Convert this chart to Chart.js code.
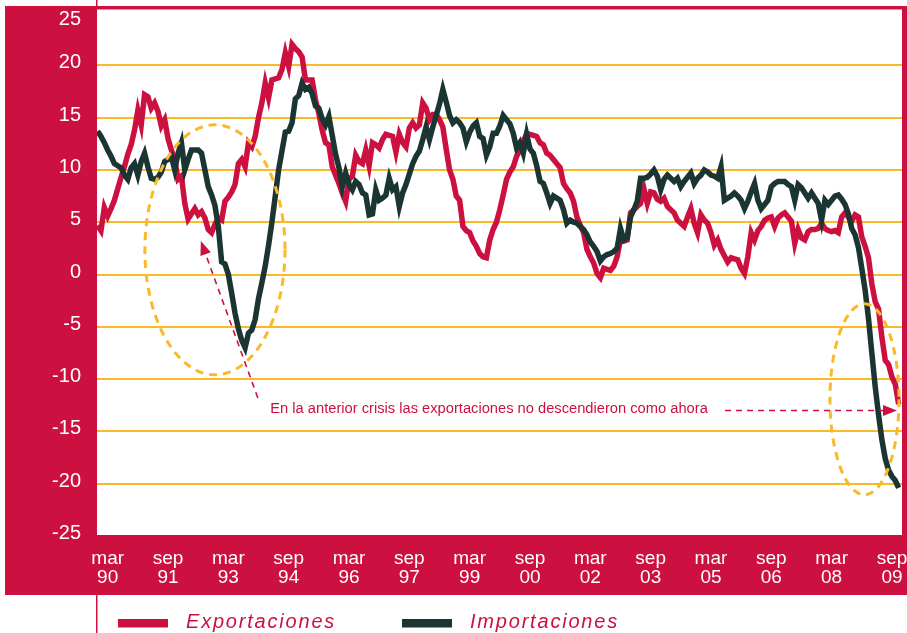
<!DOCTYPE html>
<html lang="es">
<head>
<meta charset="utf-8">
<title>Exportaciones e importaciones</title>
<script src="https://cdn.jsdelivr.net/npm/chart.js@4.4.1/dist/chart.umd.min.js"></script>
<style>
  html, body { margin: 0; padding: 0; background: #ffffff; }
  #contenedor { position: relative; width: 907px; height: 633px; }
</style>
</head>
<body>
<div id="contenedor"><canvas id="grafico" width="907" height="633"></canvas></div>
<script>
// meses contados desde mar 90 (la serie empieza en dic 89 = -3)
const primerMes = -3;

const exportaciones = [
  4.7, 4.2, 6.4, 5.6, 6.3, 7.1, 8.2, 9.3, 10.3, 11.5, 12.4, 13.8,
  15.7, 14.3, 17.2, 17.0, 15.9, 16.4, 15.6, 14.2, 14.8, 13.0, 11.9, 11.0,
  9.1, 9.4, 6.8, 5.3, 5.8, 6.3, 5.7, 6.0, 5.4, 4.3, 4.0, 4.8,
  5.4, 5.2, 7.0, 7.4, 7.9, 8.6, 10.6, 11.0, 10.3, 12.6, 12.2, 13.2,
  15.0, 16.4, 18.3, 16.9, 18.6, 18.7, 18.8, 19.6, 21.2, 19.9, 22.0, 21.6,
  21.3, 20.8, 18.6, 18.6, 18.6, 16.7, 15.4, 13.8, 12.6, 12.4, 10.3, 9.5,
  8.7, 7.8, 7.0, 9.1, 9.4, 11.4, 10.8, 10.6, 11.9, 10.4, 12.6, 12.4,
  12.1, 12.9, 13.4, 13.3, 13.2, 11.7, 13.4, 12.6, 12.2, 14.0, 14.5, 14.0,
  14.3, 16.4, 15.9, 14.8, 15.3, 15.3, 14.8, 14.1, 12.0, 10.0, 9.1, 7.5,
  7.1, 4.6, 4.2, 4.0, 3.2, 2.7, 2.0, 1.7, 1.6, 3.3, 4.3, 5.0,
  6.2, 7.6, 9.1, 9.8, 10.3, 11.3, 11.9, 12.7, 13.5, 13.4, 13.3, 13.2,
  12.6, 12.4, 11.6, 11.4, 11.0, 10.6, 10.2, 8.7, 8.2, 7.8, 7.0, 5.5,
  4.7, 4.0, 2.4, 1.7, 1.1, 0.1, -0.3, 0.6, 0.5, 0.4, 0.8, 1.7,
  3.3, 3.2, 3.3, 5.9, 6.2, 6.5, 6.8, 8.2, 6.8, 7.9, 7.8, 7.2,
  7.0, 7.3, 6.5, 6.2, 5.9, 5.2, 4.9, 4.6, 5.5, 6.3, 4.9, 4.0,
  5.7, 5.2, 4.9, 4.0, 2.8, 3.3, 2.4, 1.8, 1.2, 1.6, 1.5, 1.4,
  0.6, 0.1, 1.7, 4.0, 3.3, 4.2, 4.6, 5.2, 5.4, 5.5, 4.6, 5.4,
  5.7, 5.9, 5.5, 5.1, 3.0, 4.3, 3.5, 3.3, 4.1, 4.3, 4.3, 4.4,
  4.9, 4.4, 4.2, 4.1, 4.2, 4.0, 5.5, 5.9, 5.5, 5.1, 5.7, 5.5,
  3.6, 2.7, 1.6, -0.9, -2.6, -3.3, -6.0, -8.2, -8.6, -9.8, -10.5, -12.4
];

const importaciones = [
  13.7, 13.2, 12.6, 11.9, 11.3, 10.6, 10.4, 10.2, 9.5, 9.1, 10.2, 10.6,
  9.5, 10.8, 11.6, 10.3, 9.2, 9.1, 9.3, 9.8, 10.8, 11.0, 11.3, 10.0,
  11.6, 12.6, 10.0, 11.0, 11.9, 11.9, 11.9, 11.6, 10.0, 8.4, 7.6, 6.6,
  4.6, 1.2, 1.0, 0.0, -1.8, -3.7, -5.2, -6.3, -7.0, -5.6, -5.3, -4.3,
  -2.3, -0.8, 0.8, 2.8, 5.0, 7.5, 10.0, 11.8, 13.6, 13.7, 14.5, 16.8,
  17.1, 18.3, 17.7, 17.9, 17.3, 16.1, 15.9, 14.9, 14.3, 15.1, 13.3, 11.5,
  10.2, 8.4, 9.7, 8.6, 8.1, 8.9, 8.6, 7.8, 7.6, 5.7, 5.8, 8.1,
  7.1, 7.3, 7.6, 9.2, 8.1, 8.4, 6.5, 7.8, 8.6, 9.6, 10.6, 11.3,
  11.8, 12.9, 14.1, 12.9, 14.1, 15.2, 16.3, 17.7, 16.5, 15.2, 14.5, 14.8,
  14.5, 14.0, 12.7, 13.6, 14.2, 14.5, 13.2, 13.0, 11.4, 12.2, 13.5, 13.5,
  14.2, 15.2, 14.8, 14.4, 13.5, 12.1, 12.6, 11.6, 13.4, 12.0, 11.6, 10.4,
  8.9, 8.7, 7.8, 6.8, 7.5, 7.3, 7.1, 6.2, 4.9, 5.2, 5.0, 4.9,
  4.6, 4.3, 3.8, 3.1, 2.7, 2.2, 1.3, 1.7, 1.9, 2.0, 2.2, 2.5,
  4.4, 3.3, 3.5, 5.5, 6.2, 7.0, 9.2, 9.2, 9.3, 9.6, 10.0, 9.4,
  8.1, 9.1, 9.5, 9.2, 8.9, 9.2, 8.4, 8.9, 9.3, 9.7, 8.7, 9.2,
  9.5, 10.0, 9.8, 9.5, 9.4, 9.2, 10.3, 7.1, 7.3, 7.5, 7.8, 7.5,
  7.1, 6.3, 7.0, 7.9, 8.7, 7.1, 6.3, 6.7, 7.1, 8.4, 8.7, 8.9,
  8.9, 8.9, 8.6, 8.4, 7.1, 8.6, 8.3, 7.8, 7.3, 7.8, 7.3, 6.8,
  5.2, 7.1, 6.7, 7.1, 7.5, 7.6, 7.2, 6.7, 5.8, 4.4, 3.8, 2.6,
  0.6, -1.5, -4.2, -7.5, -10.7, -13.4, -15.8, -17.6, -18.7, -19.3, -19.7, -20.4
];

const posicionesEje = [0, 18, 36, 54, 72, 90, 108, 126, 144, 162, 180, 198, 216, 234];
const etiquetasMes = ['mar', 'sep', 'mar', 'sep', 'mar', 'sep', 'mar', 'sep', 'mar', 'sep', 'mar', 'sep', 'mar', 'sep'];
const etiquetasAnio = ['90', '91', '93', '94', '96', '97', '99', '00', '02', '03', '05', '06', '08', '09'];
const valoresEjeY = [25, 20, 15, 10, 5, 0, -5, -10, -15, -20, -25];

const textoNota = 'En la anterior crisis las exportaciones no descendieron como ahora';

const colores = {
  rojo: '#cc1040',
  verde: '#1b3533',
  amarillo: '#f9b928',
  blanco: '#ffffff'
};

// marco rojo y zona blanca del grafico
const fondo = {
  id: 'fondo',
  beforeDraw(chart) {
    const ctx = chart.ctx;
    const a = chart.chartArea;
    ctx.save();
    ctx.fillStyle = colores.blanco;
    ctx.fillRect(0, 0, chart.width, chart.height);
    ctx.fillStyle = colores.rojo;
    ctx.fillRect(5, 6, chart.width - 5, 589);
    ctx.fillStyle = colores.blanco;
    ctx.fillRect(a.left, 9.5, a.right - a.left, a.bottom - 1 - 9.5);
    ctx.fillStyle = colores.rojo;
    ctx.fillRect(a.left - 1, 0, 1.5, 7);
    ctx.fillRect(a.left - 1, 595, 1.5, chart.height - 595);
    ctx.restore();
  }
};

function flecha(ctx, x0, y0, x1, y1) {
  const ang = Math.atan2(y1 - y0, x1 - x0);
  const largo = 14;
  ctx.setLineDash([6, 5]);
  ctx.beginPath();
  ctx.moveTo(x0, y0);
  ctx.lineTo(x1 - Math.cos(ang) * largo, y1 - Math.sin(ang) * largo);
  ctx.stroke();
  ctx.setLineDash([]);
  ctx.beginPath();
  ctx.moveTo(x1, y1);
  ctx.lineTo(x1 - Math.cos(ang) * largo - Math.sin(ang) * 5.5, y1 - Math.sin(ang) * largo + Math.cos(ang) * 5.5);
  ctx.lineTo(x1 - Math.cos(ang) * largo + Math.sin(ang) * 5.5, y1 - Math.sin(ang) * largo - Math.cos(ang) * 5.5);
  ctx.closePath();
  ctx.fill();
}

// elipses, flechas y nota (en unidades de los ejes)
const anotaciones = {
  id: 'anotaciones',
  afterDatasetsDraw(chart) {
    const ctx = chart.ctx;
    const sx = chart.scales.x;
    const sy = chart.scales.y;
    const elipses = [
      { mes: 32, valor: 2.36, rMes: 20.9, rValor: 11.95 },
      { mes: 225.8, valor: -11.93, rMes: 10.3, rValor: 9.13 }
    ];
    ctx.save();
    ctx.strokeStyle = colores.amarillo;
    ctx.lineWidth = 3;
    ctx.setLineDash([8, 6]);
    elipses.forEach(e => {
      const cx = sx.getPixelForValue(e.mes);
      const cy = sy.getPixelForValue(e.valor);
      const rx = sx.getPixelForValue(e.mes + e.rMes) - cx;
      const ry = cy - sy.getPixelForValue(e.valor + e.rValor);
      ctx.beginPath();
      ctx.ellipse(cx, cy, rx, ry, 0, 0, Math.PI * 2);
      ctx.stroke();
    });

    ctx.strokeStyle = colores.rojo;
    ctx.fillStyle = colores.rojo;
    ctx.lineWidth = 1.6;
    flecha(ctx, sx.getPixelForValue(44.8), sy.getPixelForValue(-11.8),
      sx.getPixelForValue(27.8), sy.getPixelForValue(3.2));
    flecha(ctx, sx.getPixelForValue(184.2), sy.getPixelForValue(-13.0),
      sx.getPixelForValue(235.5), sy.getPixelForValue(-13.0));

    ctx.font = '14.7px Arial, "Liberation Sans", sans-serif';
    ctx.textAlign = 'left';
    ctx.textBaseline = 'middle';
    ctx.fillText(textoNota, sx.getPixelForValue(48.5), sy.getPixelForValue(-12.85));
    ctx.restore();
  }
};

// leyenda inferior y etiqueta superior del eje
const leyenda = {
  id: 'leyenda',
  afterDraw(chart) {
    const ctx = chart.ctx;
    const sy = chart.scales.y;
    ctx.save();
    ctx.fillStyle = colores.blanco;
    ctx.font = '20px Arial, "Liberation Sans", sans-serif';
    ctx.textAlign = 'right';
    ctx.textBaseline = 'middle';
    ctx.fillText('25', sy.right - 16, sy.getPixelForValue(25) + 6.3);

    const inicios = [118, 402];
    ctx.font = 'italic 20px Arial, "Liberation Sans", sans-serif';
    ctx.textAlign = 'left';
    ctx.textBaseline = 'alphabetic';
    ctx.letterSpacing = '1.8px';
    chart.data.datasets.forEach((d, i) => {
      ctx.fillStyle = d.borderColor;
      ctx.fillRect(inicios[i], 619, 50, 8.5);
      ctx.fillStyle = colores.rojo;
      ctx.fillText(d.label, inicios[i] + 68, 628);
    });
    ctx.restore();
  }
};

const serie = (valores) => valores.map((v, i) => ({ x: primerMes + i, y: v }));

new Chart(document.getElementById('grafico'), {
  type: 'line',
  data: {
    datasets: [
      {
        label: 'Exportaciones',
        data: serie(exportaciones),
        borderColor: colores.rojo,
        borderWidth: 5.5,
        pointRadius: 0,
        tension: 0,
        order: 1
      },
      {
        label: 'Importaciones',
        data: serie(importaciones),
        borderColor: colores.verde,
        borderWidth: 5.5,
        pointRadius: 0,
        tension: 0,
        order: 0
      }
    ]
  },
  options: {
    responsive: false,
    devicePixelRatio: 1,
    animation: false,
    layout: { padding: { top: 13, right: 5, bottom: 0, left: 0 } },
    plugins: {
      legend: { display: false },
      tooltip: { enabled: false }
    },
    scales: {
      x: {
        type: 'linear',
        min: -3.19,
        max: 237,
        afterBuildTicks: s => { s.ticks = posicionesEje.map(v => ({ value: v })); },
        afterFit: s => { s.height = 97; s.paddingLeft = 0; s.paddingRight = 0; },
        grid: { display: false, drawTicks: false },
        border: { display: false },
        ticks: {
          autoSkip: false,
          maxRotation: 0,
          color: colores.blanco,
          padding: 13,
          font: { family: '"Liberation Sans Narrow", "Arial Narrow", Arial, sans-serif', size: 19, lineHeight: '19.3px' },
          callback: (v, i) => [etiquetasMes[i], etiquetasAnio[i]]
        }
      },
      y: {
        min: -25,
        max: 25,
        afterBuildTicks: s => { s.ticks = valoresEjeY.map(v => ({ value: v })); },
        afterFit: s => { s.width = 97; s.paddingTop = 0; s.paddingBottom = 0; },
        grid: {
          color: c => (Math.abs(c.tick.value) === 25 ? 'rgba(0,0,0,0)' : colores.amarillo),
          lineWidth: 2,
          drawTicks: false
        },
        border: { display: false },
        ticks: {
          color: colores.blanco,
          padding: 16,
          labelOffset: -2.5,
          font: { family: 'Arial, "Liberation Sans", sans-serif', size: 20 },
          callback: v => (v === 25 ? '' : String(v))
        }
      }
    }
  },
  plugins: [fondo, anotaciones, leyenda]
});
</script>
</body>
</html>
